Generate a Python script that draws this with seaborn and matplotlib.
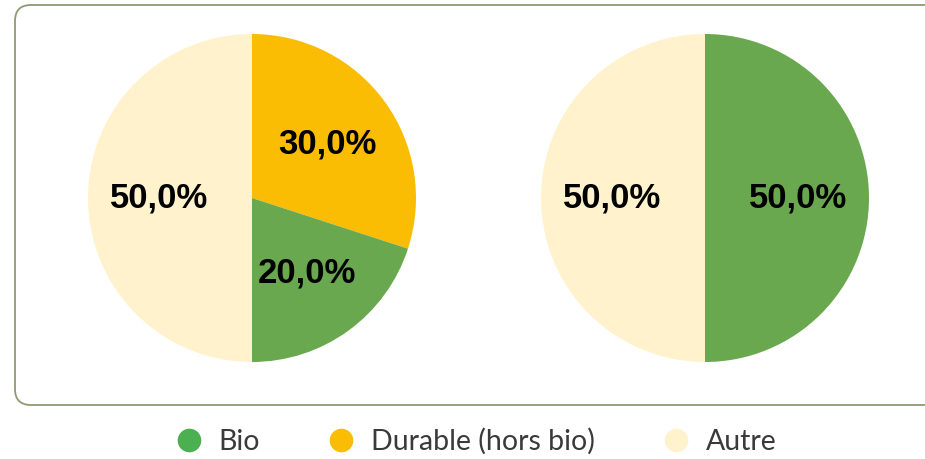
import matplotlib
matplotlib.use("Agg")
import matplotlib.pyplot as plt
import seaborn as sns
from matplotlib.patches import FancyBboxPatch
from matplotlib.lines import Line2D

# données
categories = ["Durable (hors bio)", "Bio", "Autre"]
pie_left = [30.0, 20.0, 50.0]
pie_right = [0.0, 50.0, 50.0]
legend_order = ["Bio", "Durable (hors bio)", "Autre"]

sns.set_theme(style="white")
plt.rcParams['font.family'] = ['Liberation Sans', 'DejaVu Sans']

pie_colors = {"Bio": "#6aa84f", "Durable (hors bio)": "#fbbc04", "Autre": "#fff2cc"}
legend_colors = {"Bio": "#4caf50", "Durable (hors bio)": "#fbbc04", "Autre": "#fff2cc"}

fig = plt.figure(figsize=(9.25, 4.59), dpi=100)

# cadre arrondi (coordonnées en pixels)
bg = fig.add_axes([0, 0, 1, 1])
bg.set_xlim(0, 925)
bg.set_ylim(459, 0)
bg.axis("off")
box = FancyBboxPatch((15, 5), 940, 400, boxstyle="round,pad=0,rounding_size=16",
                     facecolor="white", edgecolor="#8d9b73", linewidth=1.3)
bg.add_patch(box)


def fmt(pct):
    return "" if pct < 0.05 else f"{pct:.1f}%".replace(".", ",")


def draw_pie(ax, values):
    ax.pie(values, colors=[pie_colors[c] for c in categories], startangle=90,
           counterclock=False, autopct=fmt, pctdistance=0.565,
           wedgeprops=dict(linewidth=0),
           textprops=dict(fontsize=25, fontweight="bold", color="black"))
    ax.set_xlim(-1, 1)
    ax.set_ylim(-1, 1)


ax1 = fig.add_axes([88 / 925, 97 / 459, 328 / 925, 328 / 459])
draw_pie(ax1, pie_left)
ax2 = fig.add_axes([541 / 925, 97 / 459, 328 / 925, 328 / 459])
draw_pie(ax2, pie_right)

handles = [Line2D([0], [0], marker="o", linestyle="", markersize=17,
                  markerfacecolor=legend_colors[c], markeredgewidth=0)
           for c in legend_order]
fig.legend(handles, legend_order, loc="center", bbox_to_anchor=(0.514, 0.038),
           ncol=3, frameon=False, handlelength=1.0, handletextpad=0.55,
           columnspacing=2.35,
           prop=dict(family="Lato", size=20.5), labelcolor="#3a3a3a")

fig.savefig("out.png", dpi=100)
